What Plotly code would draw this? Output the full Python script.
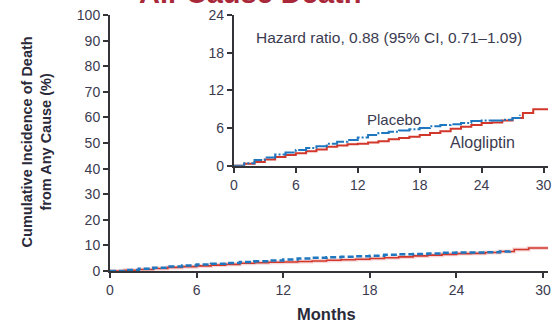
import plotly.graph_objects as go

# ---- data (months, cumulative incidence %) ----
placebo_months = [0, 1, 2, 3, 4, 5, 6, 7, 8, 9, 10, 11, 12, 13, 14, 15, 16, 17, 18,
                  19, 20, 21, 22, 23, 24, 25, 26, 27, 27.7]
placebo_pct = [0, 0.4, 0.9, 1.3, 1.8, 2.1, 2.5, 2.8, 3.1, 3.5, 3.8, 4.1, 4.5, 4.9, 5.2,
               5.4, 5.6, 5.8, 6.0, 6.3, 6.5, 6.6, 6.8, 7.1, 7.2, 7.2, 7.3, 7.6, 8.1]

alo_months = [0, 1, 2, 3, 4, 5, 6, 7, 8, 9, 10, 11, 12, 13, 14, 15, 16, 17, 18, 19,
              20, 21, 22, 23, 24, 25, 26, 27, 28, 29, 30.5]
alo_pct = [0, 0.3, 0.6, 1.0, 1.4, 1.7, 2.0, 2.3, 2.6, 3.0, 3.2, 3.4, 3.5, 3.7, 3.9,
           4.2, 4.4, 4.6, 4.9, 5.2, 5.5, 5.9, 6.2, 6.5, 6.8, 6.9, 7.2, 7.6, 8.4, 9.0, 9.0]

x_ticks = [0, 6, 12, 18, 24, 30]
main_y_ticks = [0, 10, 20, 30, 40, 50, 60, 70, 80, 90, 100]
inset_y_ticks = [0, 6, 12, 18, 24]

title_text = "All-Cause Death"
hr_text = "Hazard ratio, 0.88 (95% CI, 0.71\u20131.09)"
ytitle = "Cumulative Incidence of Death<br>from Any Cause (%)"

BLUE = "#1f78bf"
RED = "#d2372b"
AX = "#333338"
FONT = "Liberation Sans, Arial, sans-serif"
TICKC = "#3b3b50"

fig = go.Figure()

# main panel
fig.add_trace(go.Scatter(x=alo_months, y=alo_pct, mode="lines", line_shape="hv",
                         line=dict(color="rgba(235,165,165,0.45)", width=4),
                         xaxis="x", yaxis="y", hoverinfo="skip"))
fig.add_trace(go.Scatter(x=alo_months, y=alo_pct, mode="lines", line_shape="hv",
                         line=dict(color=RED, width=1.6), xaxis="x", yaxis="y"))
fig.add_trace(go.Scatter(x=placebo_months, y=placebo_pct, mode="lines", line_shape="hv",
                         line=dict(color=BLUE, width=2.5, dash="6px,3px"),
                         xaxis="x", yaxis="y"))

# inset panel
fig.add_trace(go.Scatter(x=alo_months, y=alo_pct, mode="lines", line_shape="hv",
                         line=dict(color=RED, width=2), xaxis="x2", yaxis="y2"))
fig.add_trace(go.Scatter(x=placebo_months, y=placebo_pct, mode="lines", line_shape="hv",
                         line=dict(color=BLUE, width=2, dash="14px,2px,2px,2px"),
                         xaxis="x2", yaxis="y2"))

axis_common = dict(showgrid=False, zeroline=False, showline=True, linecolor=AX,
                   linewidth=2, ticks="outside", ticklen=5, tickwidth=2, tickcolor=AX,
                   tickfont=dict(family=FONT, size=14, color=TICKC),
                   ticklabeloverflow="allow", fixedrange=True)

L, T, B = 110, 15, 52.5
W, H = 552, 324
pw = W - L
ph = H - T - B


def px(xp):
    return (xp - L) / pw


def py(yp):
    return (H - B - yp) / ph


fig.update_layout(
    width=W, height=H,
    margin=dict(l=L, r=0, t=T, b=B),
    paper_bgcolor="white", plot_bgcolor="white",
    showlegend=False,
    xaxis=dict(axis_common, range=[0, 30.34], tickvals=x_ticks, domain=[0, 1],
               anchor="y"),
    yaxis=dict(axis_common, range=[0, 100], tickvals=main_y_ticks, domain=[0, 1],
               anchor="x"),
    xaxis2=dict(axis_common, range=[0, 30.43], tickvals=x_ticks,
                domain=[px(235), 1], anchor="y2"),
    yaxis2=dict(axis_common, range=[0, 24], tickvals=inset_y_ticks,
                domain=[py(166), 1], anchor="x2"),
)

ann = []
ann.append(dict(text="<b>" + title_text + "</b>", xref="paper", yref="paper",
                x=px(251), y=py(4), xanchor="center", yanchor="bottom", yshift=-7,
                showarrow=False, font=dict(family=FONT, size=29, color="#a8283a")))
ann.append(dict(text=hr_text, xref="paper", yref="paper", x=px(255), y=py(38),
                xanchor="left", yanchor="middle", showarrow=False,
                font=dict(family=FONT, size=15.5, color=TICKC)))
ann.append(dict(text="Placebo", xref="paper", yref="paper", x=px(397), y=py(120),
                xanchor="center", yanchor="middle", showarrow=False,
                font=dict(family=FONT, size=15, color=TICKC)))
ann.append(dict(text="Alogliptin", xref="paper", yref="paper", x=px(486), y=py(143),
                xanchor="center", yanchor="middle", showarrow=False,
                font=dict(family=FONT, size=16, color=TICKC)))
ann.append(dict(text="<b>Months</b>", xref="paper", yref="paper", x=px(328), y=py(315),
                xanchor="center", yanchor="middle", showarrow=False,
                font=dict(family=FONT, size=16.5, color="#2a2a3a")))
ann.append(dict(text="<b>" + ytitle + "</b>", xref="paper", yref="paper", x=px(36),
                y=py(142), xanchor="center", yanchor="middle", textangle=-90,
                showarrow=False, align="center",
                font=dict(family=FONT, size=14.5, color="#2a2a3a")))
fig.update_layout(annotations=ann)

fig.write_html("out.html")
